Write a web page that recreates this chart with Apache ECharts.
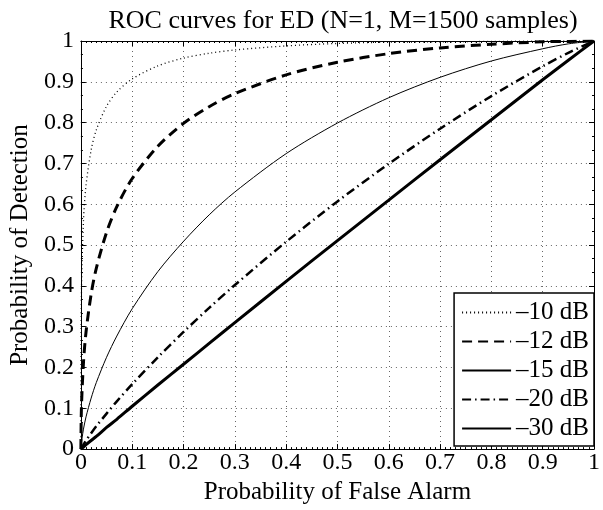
<!DOCTYPE html>
<html>
<head>
<meta charset="utf-8">
<script src="https://cdn.jsdelivr.net/npm/echarts@6/dist/echarts.min.js"></script>
<style>
html,body{margin:0;padding:0;background:#fff;}
#c{width:603px;height:510px;}
</style>
</head>
<body>
<div id="c"></div>
<script>
// Probability of false alarm (x) sample points
const pf = [0, 0.001, 0.005, 0.01, 0.02, 0.03, 0.05, 0.07, 0.1, 0.15, 0.2, 0.25, 0.3, 0.4, 0.5, 0.6, 0.7, 0.8, 0.9, 0.95, 1];
// Probability of detection for each SNR curve
const pd_m10 = [0, 0.375, 0.559, 0.646, 0.733, 0.782, 0.840, 0.875, 0.907, 0.939, 0.958, 0.970, 0.978, 0.988, 0.994, 0.997, 0.998, 0.999, 1.0, 1.0, 1];
const pd_m12 = [0, 0.100, 0.212, 0.287, 0.380, 0.443, 0.531, 0.594, 0.663, 0.742, 0.798, 0.839, 0.871, 0.917, 0.948, 0.969, 0.983, 0.992, 0.998, 0.999, 1];
const pd_m15 = [0, 0.016, 0.049, 0.079, 0.125, 0.163, 0.225, 0.277, 0.344, 0.435, 0.509, 0.574, 0.630, 0.724, 0.799, 0.861, 0.911, 0.951, 0.981, 0.993, 1];
const pd_m20 = [0, 0.003, 0.011, 0.021, 0.039, 0.056, 0.087, 0.117, 0.159, 0.225, 0.287, 0.346, 0.402, 0.508, 0.607, 0.699, 0.785, 0.865, 0.938, 0.971, 1];
const pd_m30 = [0, 0.001, 0.005, 0.011, 0.021, 0.031, 0.053, 0.073, 0.105, 0.157, 0.208, 0.259, 0.310, 0.411, 0.511, 0.610, 0.709, 0.807, 0.905, 0.953, 1];
const seriesNames = ['\u201310 dB', '\u201312 dB', '\u201315 dB', '\u201320 dB', '\u201330 dB'];
const titleText = 'ROC curves for ED (N=1, M=1500 samples)';
const xName = 'Probability of False Alarm';
const yName = 'Probability of Detection';

const FONT = 'Liberation Serif';
function pairs(ys){ return pf.map((x,i)=>[x, ys[i]]); }

const styles = [
  {width:1.3, type:[1,3]},
  {width:3, type:[10,6]},
  {width:1, type:'solid'},
  {width:2.5, type:[9,4,1.5,4]},
  {width:3, type:'solid'}
];
const datas = [pd_m10, pd_m12, pd_m15, pd_m20, pd_m30];

const chart = echarts.init(document.getElementById('c'), null, {renderer:'canvas'});
const axisCommon = {
  type:'value', min:0, max:1, interval:0.1,
  axisLine:{show:true, onZero:false, lineStyle:{color:'#000', width:1}},
  axisTick:{show:true, inside:true, length:5, lineStyle:{color:'#000'}},
  splitLine:{show:false}
};
chart.setOption({
  animation:false,
  backgroundColor:'#fff',
  title:{
    text:titleText, left:338, textAlign:'center', top:3,
    textStyle:{fontFamily:FONT, fontSize:26, fontWeight:'normal', color:'#000'}
  },
  grid:{left:75, right:3, top:41, bottom:54, containLabel:false},
  legend:{
    orient:'vertical', right:9, bottom:64,
    backgroundColor:'#fff', borderColor:'#000', borderWidth:1.5,
    padding:[7,5,5,7], itemWidth:49, itemHeight:14, itemGap:4,
    itemStyle:{opacity:0},
    textStyle:{fontFamily:FONT, fontSize:25, color:'#000', padding:[0,0,0,0]},
    data:seriesNames
  },
  xAxis:[
    Object.assign({}, axisCommon, {
      position:'bottom',
      name:xName, nameLocation:'middle', nameGap:27,
      nameTextStyle:{fontFamily:FONT, fontSize:25, color:'#000'},
      axisLabel:{fontFamily:FONT, fontSize:24, color:'#000', margin:2},
      minorTick:{show:true, splitNumber:10, length:2, lineStyle:{color:'#000'}},
      splitLine:{show:true, lineStyle:{color:'#666', type:[1,4], width:1}}
    }),
    Object.assign({}, axisCommon, {
      position:'top', axisLabel:{show:false},
      minorTick:{show:true, splitNumber:10, length:2, lineStyle:{color:'#000'}}
    })
  ],
  yAxis:[
    Object.assign({}, axisCommon, {
      position:'left',
      name:yName, nameLocation:'middle', nameGap:41,
      nameTextStyle:{fontFamily:FONT, fontSize:25, color:'#000'},
      axisLabel:{fontFamily:FONT, fontSize:24, color:'#000', margin:7},
      minorTick:{show:true, splitNumber:3, length:2, lineStyle:{color:'#000'}},
      splitLine:{show:true, lineStyle:{color:'#666', type:[1,4], width:1}}
    }),
    Object.assign({}, axisCommon, {
      position:'right', axisLabel:{show:false},
      minorTick:{show:true, splitNumber:3, length:2, lineStyle:{color:'#000'}}
    })
  ],
  series: datas.map((d,i)=>({
    name:seriesNames[i], type:'line', data:pairs(d),
    xAxisIndex:0, yAxisIndex:0,
    symbol:'none', smooth:0.3,
    lineStyle:{color:'#000', width:styles[i].width, type:styles[i].type},
    itemStyle:{color:'#000'}
  }))
});
</script>
</body>
</html>
